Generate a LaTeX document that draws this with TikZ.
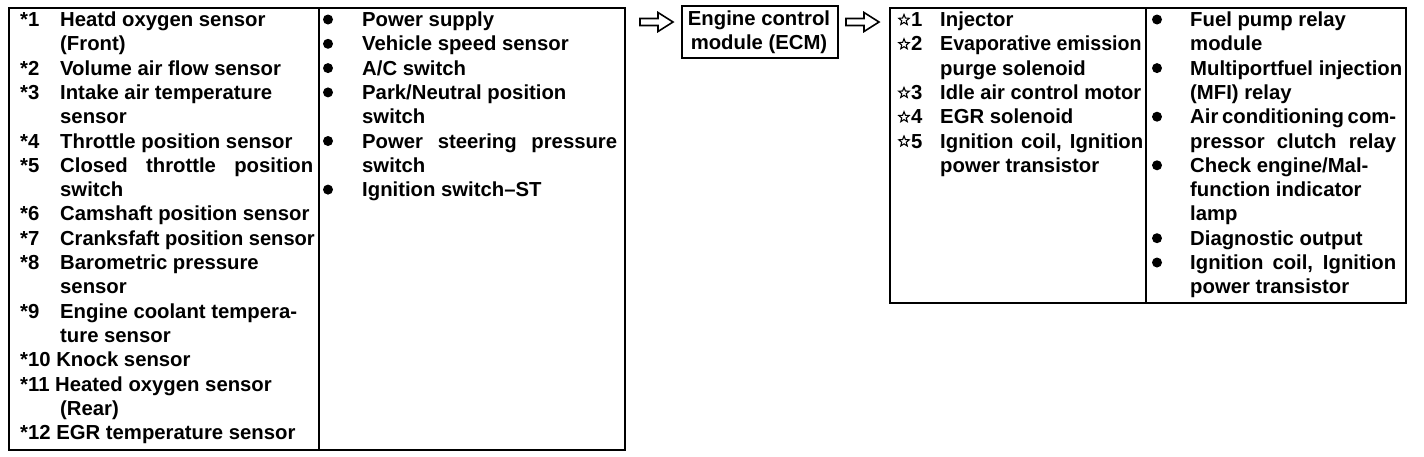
\documentclass[tikz,border=0pt]{standalone}
\usepackage{fontspec}
\setmainfont{Liberation Sans}
\usetikzlibrary{shapes.geometric}
\begin{document}
\begin{tikzpicture}[x=1pt,y=-1pt,
  txt/.style={anchor=base west, inner sep=0pt, font=\fontsize{20.3}{24}\selectfont\bfseries},
  ctxt/.style={txt, anchor=base},
  box/.style={draw, line width=1.6pt, inner sep=0pt, anchor=north west},
  rule/.style={line width=1.6pt},
  bul/.style={circle, fill, inner sep=0pt, minimum size=10pt},
  starmark/.style={star, star points=5, star point ratio=2.3, draw, line width=1.1pt, inner sep=0pt, minimum size=11pt},
  harrow/.style={draw, line width=1.6pt, line join=miter}]
\useasboundingbox (0,0) rectangle (1424,456);
\def\bl{26.5}\def\ls{24.3}
% boxes
\node[box, minimum width=616pt, minimum height=442pt] (inbox) at (8,7) {};
\draw[rule] (319,7) -- (319,449);
\node[box, minimum width=156pt, minimum height=52pt] (ecm) at (681,5) {};
\node[box, minimum width=516pt, minimum height=295pt] (outbox) at (889,7) {};
\draw[rule] (1146,7) -- (1146,302);
% ECM text
\node[ctxt] (ecm1) at (759,25) {Engine control};
\node[ctxt] (ecm2) at (759,49.5) {module (ECM)};
% hollow arrows
\coordinate (arrL) at (640,22);
\draw[harrow] (arrL) ++(0,-3.5) -- ++(18,0) -- ++(0,-6) -- ++(15,9.5) -- ++(-15,9.5) -- ++(0,-6) -- ++(-18,0) -- cycle;
\coordinate (arrR) at (846,22);
\draw[harrow] (arrR) ++(0,-3.5) -- ++(18,0) -- ++(0,-6) -- ++(15,9.5) -- ++(-15,9.5) -- ++(0,-6) -- ++(-18,0) -- cycle;
% left column
\foreach \i/\t in {0/*1,2/*2,3/*3,5/*4,6/*5,8/*6,9/*7,10/*8,12/*9}
  \node[txt] (n\i) at (20,{\bl+\ls*\i}) {\t};
\foreach \i/\t in {0/{Heatd oxygen sensor},1/{(Front)},2/{Volume air flow sensor},
  3/{Intake air temperature},4/{sensor},5/{Throttle position sensor},
  6/{\makebox[253pt][s]{Closed throttle position}},7/{switch},
  8/{Camshaft position sensor},9/{\scalebox{0.99}[1]{Cranksfaft position sensor}},
  10/{Barometric pressure},11/{sensor},12/{Engine coolant tempera-},
  13/{ture sensor},16/{(Rear)}}
  \node[txt] (a\i) at (60,{\bl+\ls*\i}) {\t};
\foreach \i/\t in {14/{*10 Knock sensor},15/{*11 Heated oxygen sensor},17/{*12 EGR temperature sensor}}
  \node[txt] (a\i) at (20,{\bl+\ls*\i}) {\t};
% middle column
\foreach \i in {0,1,2,3,5,7}
  \node[bul] (mb\i) at (328,{\bl-7+\ls*\i}) {};
\foreach \i/\t in {0/{Power supply},1/{Vehicle speed sensor},2/{A/C switch},
  3/{Park/Neutral position},4/{switch},
  5/{\makebox[255pt][s]{Power steering pressure}},6/{switch},7/{Ignition switch–ST}}
  \node[txt] (m\i) at (362,{\bl+\ls*\i}) {\t};
% right box, left column
\foreach \i/\t in {0/1,1/2,3/3,4/4,5/5}{
  \node[starmark] (st\i) at (904,{\bl-6.5+\ls*\i}) {};
  \node[txt] (s\i) at (911,{\bl+\ls*\i}) {\t};
}
\foreach \i/\t in {0/{Injector},1/{\scalebox{0.965}[1]{Evaporative emission}},2/{purge solenoid},
  3/{\scalebox{0.99}[1]{Idle air control motor}},4/{EGR solenoid},
  5/{\makebox[203pt][s]{Ignition coil, Ignition}},6/{power transistor}}
  \node[txt] (r\i) at (940,{\bl+\ls*\i}) {\t};
% right box, right column
\foreach \i in {0,2,4,6,9,10}
  \node[bul] (qb\i) at (1157,{\bl-7+\ls*\i}) {};
\foreach \i/\t in {0/{Fuel pump relay},1/{module},2/{Multiportfuel injection},
  3/{(MFI) relay},4/{\makebox[206pt][s]{Air conditioning com-}},
  5/{\makebox[206pt][s]{pressor clutch relay}},6/{Check engine/Mal-},
  7/{function indicator},8/{lamp},9/{Diagnostic output},
  10/{\makebox[206pt][s]{Ignition coil, Ignition}},11/{power transistor}}
  \node[txt] (q\i) at (1190,{\bl+\ls*\i}) {\t};
\end{tikzpicture}
\end{document}
